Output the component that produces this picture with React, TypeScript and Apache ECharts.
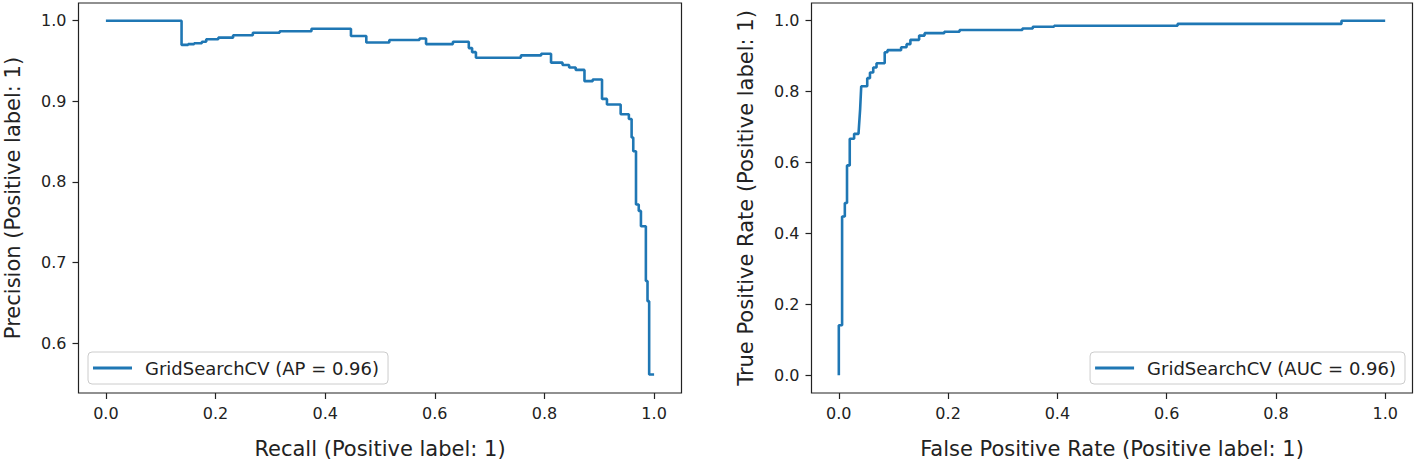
import React, { useEffect, useRef } from 'react';
import * as echarts from 'echarts';

// Precision-Recall curve (step levels: precision holds from this recall to the next)
const recall = [
  0, 0.138, 0.15, 0.161, 0.175, 0.183, 0.205, 0.232, 0.268, 0.317, 0.375, 0.447, 0.475,
  0.517, 0.572, 0.584, 0.633, 0.662, 0.668, 0.675, 0.757, 0.794, 0.812, 0.833, 0.845,
  0.857, 0.873, 0.888, 0.905, 0.914, 0.939, 0.954, 0.959, 0.962, 0.967, 0.972, 0.976,
  0.985, 0.988, 0.991, 1.0,
];
const precision = [
  1.0, 0.97, 0.971, 0.972, 0.974, 0.977, 0.979, 0.982, 0.985, 0.987, 0.99, 0.981, 0.973,
  0.976, 0.978, 0.971, 0.974, 0.966, 0.961, 0.954, 0.957, 0.959, 0.948, 0.945, 0.942,
  0.939, 0.925, 0.927, 0.903, 0.896, 0.884, 0.878, 0.855, 0.838, 0.772, 0.764, 0.745,
  0.677, 0.652, 0.561, 0.561,
];

// ROC curve
const fpr = [
  0, 0, 0.006, 0.006, 0.011, 0.011, 0.015, 0.015, 0.02, 0.02, 0.028, 0.028, 0.036, 0.039,
  0.041, 0.052, 0.052, 0.057, 0.057, 0.063, 0.063, 0.069, 0.069, 0.084, 0.084, 0.089,
  0.089, 0.114, 0.114, 0.124, 0.124, 0.131, 0.131, 0.147, 0.147, 0.157, 0.157, 0.193,
  0.193, 0.221, 0.221, 0.336, 0.336, 0.355, 0.355, 0.394, 0.394, 0.62, 0.62, 0.92, 0.92, 1.0,
];
const tpr = [
  0, 0.141, 0.141, 0.448, 0.448, 0.486, 0.486, 0.592, 0.592, 0.667, 0.667, 0.681, 0.681,
  0.75, 0.815, 0.815, 0.838, 0.838, 0.854, 0.854, 0.868, 0.868, 0.88, 0.88, 0.911, 0.911,
  0.917, 0.917, 0.925, 0.925, 0.934, 0.934, 0.946, 0.946, 0.958, 0.958, 0.965, 0.965,
  0.969, 0.969, 0.974, 0.974, 0.978, 0.978, 0.983, 0.983, 0.986, 0.986, 0.991, 0.991, 1.0, 1.0,
];

const prTicks = [0.6, 0.7, 0.8, 0.9, 1.0];
const unitTicks = [0, 0.2, 0.4, 0.6, 0.8, 1.0];
const prLegend = 'GridSearchCV (AP = 0.96)';
const rocLegend = 'GridSearchCV (AUC = 0.96)';
const prXName = 'Recall (Positive label: 1)';
const prYName = 'Precision (Positive label: 1)';
const rocXName = 'False Positive Rate (Positive label: 1)';
const rocYName = 'True Positive Rate (Positive label: 1)';

const FONT = 'DejaVu Sans';
const INK = '#222222';
const BLUE = '#1f77b4';

function axis(ticks: number[], min: number, max: number, name: string, gap: number, gridIndex: number) {
  return {
    type: 'value',
    gridIndex,
    min,
    max,
    name,
    nameLocation: 'middle',
    nameGap: gap,
    nameTextStyle: { fontSize: 21, fontFamily: FONT, color: INK },
    axisLine: { show: false, onZero: false },
    splitLine: { show: false },
    axisTick: {
      show: true,
      inside: false,
      length: 6,
      customValues: ticks,
      lineStyle: { color: INK, width: 1.2 },
    },
    axisLabel: {
      customValues: ticks,
      formatter: (v: number) => v.toFixed(1),
      fontSize: 16,
      fontFamily: FONT,
      color: INK,
      margin: 12,
    },
  };
}

function legend(name: string, pos: any) {
  return {
    data: [name],
    ...pos,
    selectedMode: false,
    orient: 'horizontal',
    backgroundColor: 'rgba(255,255,255,0.8)',
    borderColor: '#cccccc',
    borderWidth: 1,
    borderRadius: 4,
    padding: [7, 9, 7, 5],
    itemWidth: 39,
    itemHeight: 3,
    icon: 'rect',
    textStyle: { fontSize: 18, fontFamily: FONT, color: INK, padding: [0, 0, 0, 8] },
  };
}

export default function App() {
  const ref = useRef<HTMLDivElement>(null);
  useEffect(() => {
    if (!ref.current) return;
    const chart = echarts.init(ref.current, undefined, { renderer: 'svg' });
    chart.setOption({
      animation: false,
      backgroundColor: '#ffffff',
      grid: [
        { left: 78.5, top: 3, width: 603, height: 390, show: true, borderColor: INK, borderWidth: 1.2, containLabel: false },
        { left: 811.5, top: 3, width: 601, height: 390, show: true, borderColor: INK, borderWidth: 1.2, containLabel: false },
      ],
      xAxis: [
        axis(unitTicks, -0.05, 1.05, prXName, 45, 0),
        axis(unitTicks, -0.05, 1.05, rocXName, 45, 1),
      ],
      yAxis: [
        axis(prTicks, 0.538, 1.022, prYName, 55, 0),
        axis(unitTicks, -0.05, 1.05, rocYName, 55, 1),
      ],
      legend: [
        legend(prLegend, { left: 88, top: 352 }),
        legend(rocLegend, { right: 11, top: 352 }),
      ],
      series: [
        {
          name: prLegend,
          type: 'line',
          xAxisIndex: 0,
          yAxisIndex: 0,
          step: 'end',
          showSymbol: false,
          symbol: 'none',
          color: BLUE,
          lineStyle: { color: BLUE, width: 2.6 },
          data: recall.map((r, i) => [r, precision[i]]),
        },
        {
          name: rocLegend,
          type: 'line',
          xAxisIndex: 1,
          yAxisIndex: 1,
          showSymbol: false,
          symbol: 'none',
          color: BLUE,
          lineStyle: { color: BLUE, width: 2.6 },
          data: fpr.map((f, i) => [f, tpr[i]]),
        },
      ],
    });
    return () => chart.dispose();
  }, []);
  return (
    <div
      ref={ref}
      style={{ position: 'fixed', left: 0, top: 0, width: 1416, height: 464, background: '#fff' }}
    />
  );
}
